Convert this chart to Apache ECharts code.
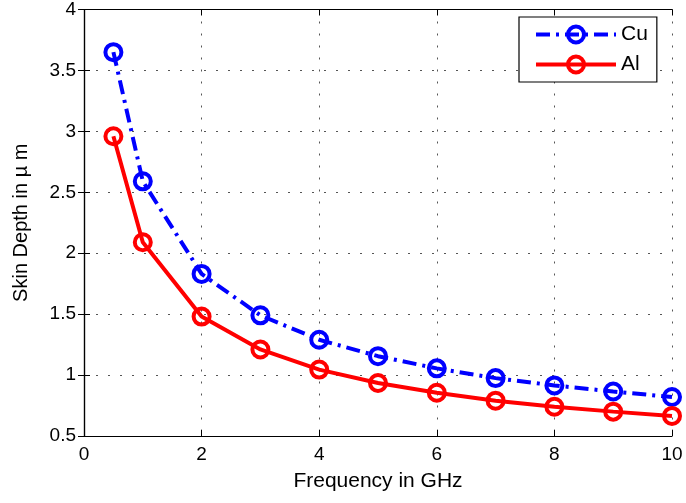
<!DOCTYPE html>
<html><head><meta charset="utf-8">
<script src="https://cdn.jsdelivr.net/npm/echarts@6/dist/echarts.min.js"></script>
<style>html,body{margin:0;padding:0;background:#fff}#c{width:686px;height:503px}</style>
</head><body><div id="c"></div>
<script>
const freq = [0.5, 1, 2, 3, 4, 5, 6, 7, 8, 9, 10];
const cu = [3.65, 2.59, 1.83, 1.49, 1.29, 1.155, 1.055, 0.975, 0.915, 0.865, 0.82];
const al = [2.96, 2.09, 1.48, 1.21, 1.045, 0.935, 0.855, 0.79, 0.74, 0.70, 0.665];
const xTicks = [0, 2, 4, 6, 8, 10];
const yTicks = [0.5, 1, 1.5, 2, 2.5, 3, 3.5, 4];

const font = 'Liberation Sans, Arial, Helvetica, sans-serif';
const pairs = a => freq.map((f, i) => [f, a[i]]);
const gridLine = {show: true, lineStyle: {color: '#555', type: [2, 10], width: 1}};
const axisLine = {show: true, lineStyle: {color: '#000', width: 1.2}};
const tick = {show: true, inside: true, length: 6, lineStyle: {color: '#000', width: 1}};

const chart = echarts.init(document.getElementById('c'));
chart.setOption({
  animation: false,
  backgroundColor: '#fff',
  grid: {left: 84, right: 14, top: 5, bottom: 67},
  xAxis: [{
    type: 'value', min: xTicks[0], max: xTicks[xTicks.length - 1], interval: xTicks[1] - xTicks[0], position: 'bottom',
    axisLine, axisTick: tick, splitLine: gridLine,
    axisLabel: {color: '#000', fontFamily: font, fontSize: 19, margin: 9},
    name: 'Frequency in GHz', nameLocation: 'middle', nameGap: 35,
    nameTextStyle: {color: '#000', fontFamily: font, fontSize: 21}
  }, {
    type: 'value', min: xTicks[0], max: xTicks[xTicks.length - 1], interval: xTicks[1] - xTicks[0], position: 'top',
    axisLine, axisTick: tick, splitLine: {show: false}, axisLabel: {show: false}
  }],
  yAxis: [{
    type: 'value', min: yTicks[0], max: yTicks[yTicks.length - 1], interval: yTicks[1] - yTicks[0], position: 'left',
    axisLine, axisTick: tick, splitLine: gridLine,
    axisLabel: {color: '#000', fontFamily: font, fontSize: 19, margin: 8},
    name: 'Skin Depth in µ m', nameLocation: 'middle', nameGap: 53, nameRotate: 90,
    nameTextStyle: {color: '#000', fontFamily: font, fontSize: 20}
  }, {
    type: 'value', min: yTicks[0], max: yTicks[yTicks.length - 1], interval: yTicks[1] - yTicks[0], position: 'right',
    axisLine, axisTick: tick, splitLine: {show: false}, axisLabel: {show: false}
  }],
  legend: {
    left: 519, top: 17, orient: 'vertical',
    backgroundColor: '#fff', borderColor: '#000', borderWidth: 1.2,
    padding: [7, 9, 7, 15], itemWidth: 80, itemHeight: 20, itemGap: 9, itemTextGap: 8,
    textStyle: {color: '#000', fontFamily: font, fontSize: 21, lineHeight: 20},
    lineStyle: {width: 4},
    itemStyle: {borderWidth: 4},
    data: ['Cu', 'Al']
  },
  series: [{
    name: 'Cu', type: 'line', data: pairs(cu),
    symbol: 'circle', symbolSize: 16, showAllSymbol: true,
    lineStyle: {color: '#0000ff', width: 4, type: [14, 6, 3, 6]},
    itemStyle: {color: 'rgba(255,255,255,0)', borderColor: '#0000ff', borderWidth: 4},
    z: 3
  }, {
    name: 'Al', type: 'line', data: pairs(al),
    symbol: 'circle', symbolSize: 16, showAllSymbol: true,
    lineStyle: {color: '#ff0000', width: 4},
    itemStyle: {color: 'rgba(255,255,255,0)', borderColor: '#ff0000', borderWidth: 4},
    z: 3
  }]
});
</script></body></html>
